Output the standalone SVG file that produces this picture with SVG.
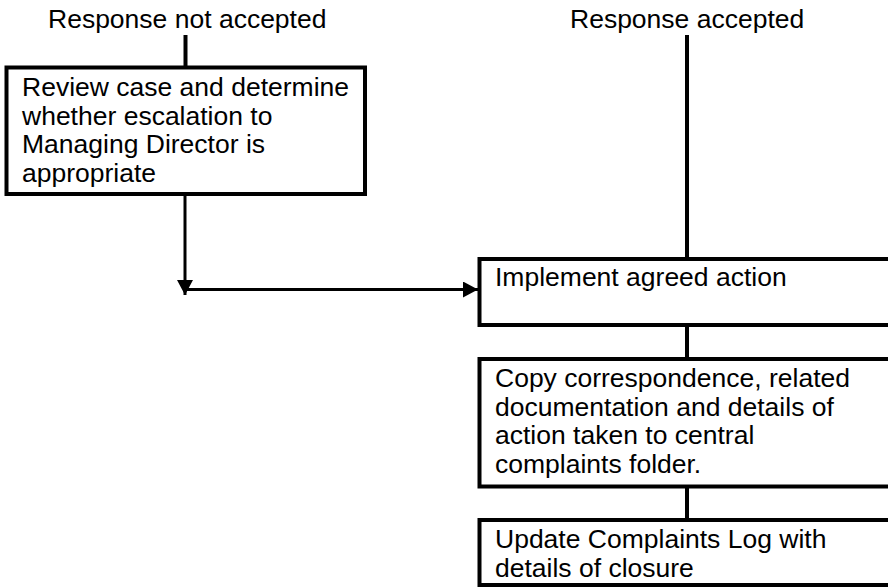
<svg xmlns="http://www.w3.org/2000/svg" width="888" height="588" viewBox="0 0 888 588">
<defs>
<style>
.box{fill:#fff;stroke:#000;stroke-width:4}
.t{font-family:"Liberation Sans",Arial,sans-serif;font-size:26.5px;fill:#000}
.ln{stroke:#000;stroke-width:4;fill:none}
.ar{stroke:#000;stroke-width:3;fill:none}
</style>
<marker id="ah" markerUnits="userSpaceOnUse" markerWidth="16" markerHeight="16" refX="15" refY="8" orient="auto" viewBox="0 0 16 16">
<path d="M0,0 L15,8 L0,16 z" fill="#000"/>
</marker>
</defs>
<rect width="888" height="588" fill="#fff"/>
<g id="connectors">
<line class="ln" x1="185.5" y1="35" x2="185.5" y2="67.5"/>
<line class="ln" x1="687" y1="35" x2="687" y2="259"/>
<line class="ln" x1="687" y1="325" x2="687" y2="359"/>
<line class="ln" x1="687" y1="486.5" x2="687" y2="520"/>
<line class="ar" x1="185" y1="194" x2="185" y2="295" marker-end="url(#ah)"/>
<line class="ar" x1="185" y1="289.5" x2="478" y2="289.5" marker-end="url(#ah)"/>
</g>
<g id="label-not-accepted"><text class="t" x="48" y="28">Response not accepted</text></g>
<g id="label-accepted"><text class="t" x="570" y="28">Response accepted</text></g>
<g id="review">
<rect class="box" x="6.5" y="67.5" width="358.5" height="126.5"/>
<text class="t" x="22" y="96">Review case and determine</text>
<text class="t" x="22" y="124.7">whether escalation to</text>
<text class="t" x="22" y="153.4">Managing Director is</text>
<text class="t" x="22" y="182">appropriate</text>
</g>
<g id="implement">
<rect class="box" x="479.5" y="259" width="430" height="66"/>
<text class="t" x="495" y="286">Implement agreed action</text>
</g>
<g id="copy">
<rect class="box" x="479.5" y="359" width="430" height="127.5"/>
<text class="t" x="495" y="387">Copy correspondence, related</text>
<text class="t" x="495" y="415.7">documentation and details of</text>
<text class="t" x="495" y="444.4">action taken to central</text>
<text class="t" x="495" y="473">complaints folder.</text>
</g>
<g id="update">
<rect class="box" x="479.5" y="520" width="430" height="65"/>
<text class="t" x="495" y="548">Update Complaints Log with</text>
<text class="t" x="495" y="577">details of closure</text>
</g>
</svg>
